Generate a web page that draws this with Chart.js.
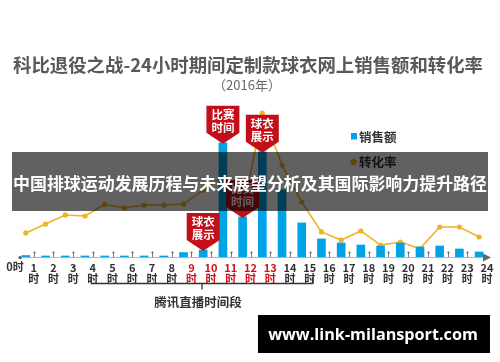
<!DOCTYPE html>
<html>
<head>
<meta charset="utf-8">
<script src="https://cdn.jsdelivr.net/npm/chart.js@4.4.0/dist/chart.umd.min.js"></script>
<style>
html,body{margin:0;padding:0;background:#fff;overflow:hidden}
#wrap{width:500px;height:362px;position:relative}
canvas{display:block}
</style>
</head>
<body>
<div id="wrap"><canvas id="c" width="500" height="362"></canvas></div>
<script>
// ---------- DATA ----------
const hours = [0,1,2,3,4,5,6,7,8,9,10,11,12,13,14,15,16,17,18,19,20,21,22,23];
const tickHours = [0,1,2,3,4,5,6,7,8,9,10,11,12,13,14,15,16,17,18,19,20,21,22,23,24];
const tickNumbers = ['0','1','2','3','4','5','6','7','8','9','10','11','12','13','14','15','16','17','18','19','20','21','22','23','24'];
const hourUnit = '时';
// sales amount index (peak hour = 100)
const salesIndex = [1.3,0.9,0.9,0.9,0.9,0.9,0.9,0.9,3.9,6.1,100,35.1,92.1,58.8,29.8,15.8,12.3,10.5,9.6,12.3,8.8,9.6,7.0,4.4];
// conversion rate index (peak hour = 100)
const conversionIndex = [16.7,22.9,29.2,28.5,36.5,34.0,36.1,36.1,36.8,46.5,56.3,29.9,100,63.9,38.2,17.4,11.8,18.1,8.3,10.4,5.9,20.8,20.8,13.9];
const highlightHours = [9,10,11,12,13];
const calloutHours = [9,10,11,12];
const calloutTexts = [['球衣','展示'],['比赛','时间'],['比赛','时间'],['球衣','展示']];
const seriesNames = ['销售额','转化率'];
const titleText = '科比退役之战-24小时期间定制款球衣网上销售额和转化率';
const subtitleText = '（2016年）';
const bracketRange = [4,15];
const bracketText = '腾讯直播时间段';
const bannerText = '中国排球运动发展历程与未来展望分析及其国际影响力提升路径';
const watermarkText = 'www.link-milansport.com';

// ---------- STYLE ----------
const BLUE = '#00A2E8';
const GOLD = '#F0B323';
const RED = '#C20F19';
const CJK = '"Noto Sans CJK SC","Noto Sans",sans-serif';

function fitFont(ctx, text, weight, family, targetW, base){
  ctx.font = weight + ' ' + base + 'px ' + family;
  const w = ctx.measureText(text).width;
  const size = base * targetW / w;
  ctx.font = weight + ' ' + size.toFixed(2) + 'px ' + family;
  return size;
}

const overlay = {
  id: 'overlay',
  afterDatasetsDraw(chart){
    const ctx = chart.ctx;
    const xs = chart.scales.x, ys = chart.scales.y;
    const base = chart.chartArea.bottom;
    ctx.save();
    // axis line + arrow
    ctx.strokeStyle = '#b5b5b5'; ctx.lineWidth = 1;
    ctx.beginPath(); ctx.moveTo(chart.chartArea.left + 6, base + 0.5); ctx.lineTo(chart.chartArea.right - 2, base + 0.5); ctx.stroke();
    ctx.fillStyle = '#666';
    ctx.beginPath(); ctx.moveTo(chart.chartArea.right - 4, base - 3.5); ctx.lineTo(chart.chartArea.right + 4, base + 0.5); ctx.lineTo(chart.chartArea.right - 4, base + 4.5); ctx.closePath(); ctx.fill();
    ctx.fillStyle = '#555';
    ctx.beginPath(); ctx.arc(chart.chartArea.left + 6, base + 0.5, 1.6, 0, Math.PI*2); ctx.fill();
    // small pins at each hour
    ctx.strokeStyle = '#777'; ctx.fillStyle = '#666';
    for (let h = 1; h <= 23; h++){
      const x = Math.round(xs.getPixelForValue(h)) + 0.5;
      ctx.beginPath(); ctx.moveTo(x, base); ctx.lineTo(x, base - 4); ctx.stroke();
      ctx.beginPath(); ctx.arc(x, base - 4.5, 1.1, 0, Math.PI*2); ctx.fill();
    }
    // tick labels
    ctx.textAlign = 'center'; ctx.textBaseline = 'middle';
    ctx.font = 'bold 11px ' + CJK;
    tickHours.forEach((h, i) => {
      const x = xs.getPixelForValue(h);
      ctx.fillStyle = highlightHours.includes(h) ? '#D0101A' : '#333';
      if (h === 0){
        ctx.fillText(tickNumbers[i] + hourUnit, x + 1, base + 10);
      } else {
        ctx.fillText(tickNumbers[i], x, base + 11);
        ctx.fillText(hourUnit, x, base + 22);
      }
    });
    // bracket
    const bx1 = xs.getPixelForValue(bracketRange[0]) - 1.5;
    const bx2 = xs.getPixelForValue(bracketRange[1]) + 3;
    const by = base + 26.5;
    ctx.strokeStyle = '#333'; ctx.lineWidth = 1.3;
    ctx.beginPath();
    ctx.moveTo(bx1, by - 6); ctx.lineTo(bx1, by); ctx.lineTo(bx2, by); ctx.lineTo(bx2, by - 6);
    const bm = (bx1 + bx2) / 2;
    ctx.moveTo(bm, by); ctx.lineTo(bm, by + 6);
    ctx.stroke();
    ctx.fillStyle = '#333';
    ctx.font = 'bold 12.5px ' + CJK;
    ctx.fillText(bracketText, bm - 4, by + 19);
    // callouts
    calloutHours.forEach((h, i) => {
      const cx = xs.getPixelForValue(h + 0.6);
      const tip = ys.getPixelForValue(salesIndex[h]) + 1;
      const w = 33, rh = 27, ah = 11;
      const top = tip - ah - rh;
      ctx.fillStyle = RED;
      ctx.beginPath();
      ctx.moveTo(cx - w/2, top); ctx.lineTo(cx + w/2, top); ctx.lineTo(cx + w/2, top + rh);
      ctx.lineTo(cx, tip); ctx.lineTo(cx - w/2, top + rh); ctx.closePath(); ctx.fill();
      ctx.fillStyle = '#fff';
      ctx.font = 'bold 11.5px ' + CJK;
      ctx.fillText(calloutTexts[i][0], cx, top + 8.5);
      ctx.fillText(calloutTexts[i][1], cx, top + 21.5);
    });
    // legend
    ctx.textAlign = 'left';
    ctx.font = 'bold 12.5px ' + CJK;
    ctx.fillStyle = BLUE; ctx.fillRect(351, 133, 6, 6.5);
    ctx.fillStyle = '#333'; ctx.fillText(seriesNames[0], 359, 137);
    ctx.fillStyle = GOLD; ctx.beginPath(); ctx.arc(353.5, 162, 3.2, 0, Math.PI*2); ctx.fill();
    ctx.fillStyle = '#333'; ctx.fillText(seriesNames[1], 359, 162);
    ctx.restore();
  },
  afterDraw(chart){
    const ctx = chart.ctx;
    ctx.save();
    ctx.textAlign = 'center'; ctx.textBaseline = 'middle';
    // title
    ctx.fillStyle = '#595959';
    fitFont(ctx, titleText, 'bold', CJK, 470, 19);
    ctx.fillText(titleText, 248, 65);
    ctx.fillStyle = '#6a6a6a';
    ctx.font = '13px ' + CJK;
    ctx.fillText(subtitleText, 247, 85);
    // banner overlay
    ctx.fillStyle = 'rgba(0,0,0,0.62)';
    ctx.fillRect(12, 152, 476, 59);
    ctx.fillStyle = '#fff';
    fitFont(ctx, bannerText, 'bold', CJK, 474, 17);
    ctx.fillText(bannerText, 250, 184);
    // watermark
    ctx.fillStyle = '#000';
    ctx.fillRect(258, 315, 232, 38);
    ctx.fillStyle = '#fff';
    fitFont(ctx, watermarkText, 'bold', '"Open Sans","DejaVu Sans",sans-serif', 210, 17);
    ctx.fillText(watermarkText, 373, 335);
    ctx.restore();
  }
};

new Chart(document.getElementById('c'), {
  type: 'bar',
  data: {
    datasets: [
      {
        type: 'bar', label: seriesNames[0],
        data: hours.map((h, i) => ({x: h + 0.6, y: salesIndex[i]})),
        backgroundColor: BLUE, barThickness: 8, yAxisID: 'y', order: 1
      },
      {
        type: 'line', label: seriesNames[1],
        data: hours.map((h, i) => ({x: h + 0.6, y: conversionIndex[i]})),
        borderColor: GOLD, backgroundColor: GOLD, borderWidth: 1.6,
        pointRadius: 2.6, pointBackgroundColor: GOLD, pointBorderWidth: 0,
        tension: 0, yAxisID: 'y1', order: 2
      }
    ]
  },
  options: {
    responsive: false, animation: false, devicePixelRatio: 1,
    layout: { padding: { left: 14, right: 13, top: 105, bottom: 105 } },
    scales: {
      x: { type: 'linear', min: 0, max: 24, offset: false, display: false },
      y: { min: 0, max: 133, display: false },
      y1: { min: 0, max: 105.6, display: false, position: 'right' }
    },
    plugins: { legend: { display: false }, tooltip: { enabled: false }, title: { display: false } }
  },
  plugins: [overlay]
});
</script>
</body>
</html>
